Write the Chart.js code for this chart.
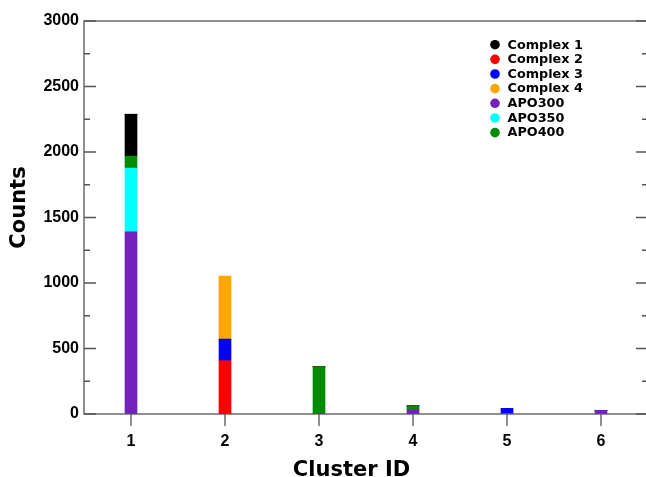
<!DOCTYPE html>
<html>
<head>
<meta charset="utf-8">
<script src="https://cdn.jsdelivr.net/npm/chart.js@4"></script>
<style>
    html, body { margin: 0; padding: 0; background: #fff; }
    #wrap { width: 646px; height: 477px; overflow: hidden; }
</style>
</head>
<body>
<div id="wrap">
    <canvas id="clusterChart" width="652" height="477"></canvas>
</div>
<script>
// cluster ids on the x axis
const CLUSTERS = ["1", "2", "3", "4", "5", "6"]

// counts per cluster, one array per system
const APO300 = [1390, 5, 5, 35, 0, 28]
const APO350 = [488, 0, 0, 0, 0, 0]
const APO400 = [90, 0, 355, 27, 0, 0]
const COMPLEX1 = [320, 0, 0, 0, 0, 0]
const COMPLEX2 = [0, 402, 0, 0, 0, 0]
const COMPLEX3 = [0, 165, 0, 0, 43, 0]
const COMPLEX4 = [0, 481, 0, 0, 0, 0]

const Y_TICKS = [0, 500, 1000, 1500, 2000, 2500, 3000]

// legend order is different from the stacking order
const LEGEND_ORDER = ["Complex 1", "Complex 2", "Complex 3", "Complex 4", "APO300", "APO350", "APO400"]

const COLORS = {
    "APO300": "#7221bc",
    "APO350": "#00ffff",
    "APO400": "#008b00",
    "Complex 1": "#000000",
    "Complex 2": "#ff0000",
    "Complex 3": "#0000ff",
    "Complex 4": "#ffa500"
}

const AXIS_COLOR = "#555555"
const TICK_FONT = { family: "'Liberation Sans'", size: 16, weight: "bold" }

function makeDataset(label, values) {
    return {
        label: label,
        data: values,
        backgroundColor: COLORS[label],
        borderWidth: 0,
        barThickness: 12
    }
}

// frame, inward y ticks, outward x ticks, axis titles and legend
const decorPlugin = {
    id: "decor",
    afterDraw(chart) {
        const ctx = chart.ctx
        const area = chart.chartArea
        const xScale = chart.scales.x
        const yScale = chart.scales.y

        ctx.save()
        ctx.strokeStyle = AXIS_COLOR
        ctx.lineWidth = 1.3
        ctx.strokeRect(area.left, area.top, area.right - area.left, area.bottom - area.top)

        ctx.beginPath()
        for (let v = 0; v <= 3000; v += 250) {
            let y = yScale.getPixelForValue(v)
            let len = (v % 500 == 0) ? 12 : 6
            ctx.moveTo(area.left, y)
            ctx.lineTo(area.left + len, y)
            ctx.moveTo(area.right, y)
            ctx.lineTo(area.right - len, y)
        }
        for (let i = 0; i < CLUSTERS.length; i++) {
            let x = xScale.getPixelForValue(i)
            ctx.moveTo(x, area.bottom)
            ctx.lineTo(x, area.bottom + 12)
        }
        ctx.stroke()

        // axis titles
        ctx.fillStyle = "#000"
        ctx.font = "bold 21px 'DejaVu Sans'"
        ctx.textAlign = "center"
        ctx.textBaseline = "alphabetic"
        ctx.fillText("Cluster ID", 351.5, 476)

        ctx.save()
        ctx.translate(25, 207.5)
        ctx.rotate(-Math.PI / 2)
        ctx.fillText("Counts", 0, 0)
        ctx.restore()

        // legend
        ctx.font = "bold 12.8px 'DejaVu Sans'"
        ctx.textAlign = "left"
        ctx.textBaseline = "middle"
        for (let i = 0; i < LEGEND_ORDER.length; i++) {
            let name = LEGEND_ORDER[i]
            let y = 44.7 + i * 14.65
            ctx.fillStyle = COLORS[name]
            ctx.beginPath()
            ctx.arc(495, y, 4.8, 0, Math.PI * 2)
            ctx.fill()
            ctx.fillStyle = "#000"
            ctx.fillText(name, 507.5, y + 0.5)
        }
        ctx.restore()
    }
}

window.onload = (event) => {
    const chartCanvas = document.getElementById("clusterChart").getContext("2d")
    const chart = new Chart(chartCanvas, {
        type: "bar",
        data: {
            labels: CLUSTERS,
            // first dataset sits at the bottom of each stack
            datasets: [
                makeDataset("APO300", APO300),
                makeDataset("APO350", APO350),
                makeDataset("APO400", APO400),
                makeDataset("Complex 1", COMPLEX1),
                makeDataset("Complex 2", COMPLEX2),
                makeDataset("Complex 3", COMPLEX3),
                makeDataset("Complex 4", COMPLEX4)
            ]
        },
        options: {
            responsive: false,
            animation: false,
            layout: {
                padding: { top: 21, right: 4, left: 0, bottom: 0 }
            },
            plugins: {
                legend: { display: false },
                tooltip: { enabled: false }
            },
            scales: {
                x: {
                    stacked: true,
                    offset: true,
                    grid: { display: false, drawTicks: false },
                    border: { display: false },
                    ticks: {
                        color: "#000",
                        padding: 18,
                        font: TICK_FONT
                    },
                    afterFit: (scale) => { scale.height = 63 }
                },
                y: {
                    stacked: true,
                    min: 0,
                    max: 3000,
                    grid: { display: false, drawTicks: false },
                    border: { display: false },
                    afterBuildTicks: (scale) => {
                        scale.ticks = Y_TICKS.map((v) => ({ value: v }))
                    },
                    ticks: {
                        color: "#000",
                        padding: 5,
                        font: TICK_FONT,
                        callback: (value) => String(value)
                    },
                    afterFit: (scale) => { scale.width = 84 }
                }
            }
        },
        plugins: [decorPlugin]
    })
}
</script>
</body>
</html>
